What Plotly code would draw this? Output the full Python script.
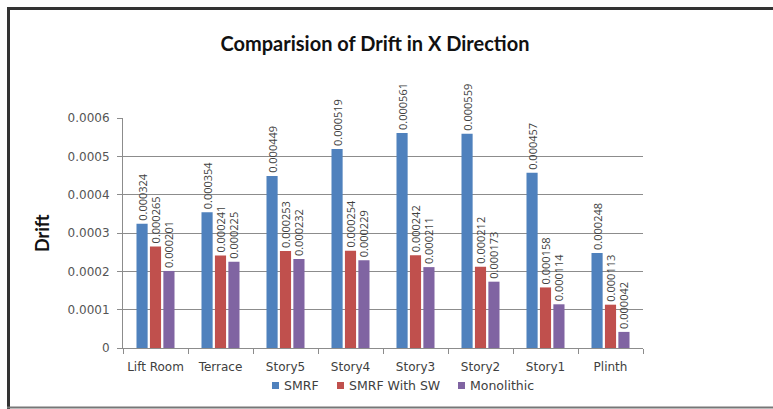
import plotly.graph_objects as go

categories = ["Lift Room", "Terrace", "Story5", "Story4", "Story3", "Story2", "Story1", "Plinth"]
smrf = [0.000324, 0.000354, 0.000449, 0.000519, 0.000561, 0.000559, 0.000457, 0.000248]
smrf_sw = [0.000265, 0.000241, 0.000253, 0.000254, 0.000242, 0.000212, 0.000158, 0.000113]
monolithic = [0.000201, 0.000225, 0.000232, 0.000229, 0.000211, 0.000173, 0.000114, 0.000042]
y_ticks = [0, 0.0001, 0.0002, 0.0003, 0.0004, 0.0005, 0.0006]
y_tick_text = ["0", "0.0001", "0.0002", "0.0003", "0.0004", "0.0005", "0.0006"]

series_names = ["SMRF", "SMRF With SW", "Monolithic"]
series_values = [smrf, smrf_sw, monolithic]
series_colors = ["#4F81BD", "#C0504D", "#8064A2"]

W, H = 773, 409
L, R, T, B = 123, 130, 118, 61
pw, ph = W - L - R, H - T - B


def px_x(x):
    return (x - L) / pw


def px_y(y):
    return (H - B - y) / ph


fig = go.Figure()
for name, vals, color in zip(series_names, series_values, series_colors):
    fig.add_trace(go.Bar(
        name=name,
        x=categories,
        y=vals,
        marker=dict(color=color, line=dict(width=0)),
        text=[f"{v:.6f}" for v in vals],
        textposition="outside",
        textangle=-90,
        constraintext="none",
        cliponaxis=False,
        showlegend=False,
        textfont=dict(family="Open Sans", size=11, color="#404040"),
    ))

# Compact legend below the axis: small square swatch followed by the name
legend_left = [272, 337, 458]
legend_mid_y = 385.5
legend_shapes = []
legend_notes = []
for left, name, color in zip(legend_left, series_names, series_colors):
    legend_shapes.append(dict(
        type="rect", xref="paper", yref="paper",
        x0=px_x(left), x1=px_x(left + 7),
        y0=px_y(legend_mid_y - 3.5), y1=px_y(legend_mid_y + 3.5),
        fillcolor=color, line=dict(width=0),
    ))
    legend_notes.append(dict(
        text=name, xref="paper", yref="paper",
        x=px_x(left + 10), y=px_y(legend_mid_y),
        xanchor="left", yanchor="middle", showarrow=False,
        font=dict(family="DejaVu Sans", size=12.5, color="#404040"),
    ))

grid = "#8c8c8c"
fig.update_layout(
    width=W,
    height=H,
    margin=dict(l=L, r=R, t=T, b=B),
    paper_bgcolor="white",
    plot_bgcolor="white",
    barmode="group",
    bargap=0.38,
    bargroupgap=0.17,
    font=dict(family="Open Sans", color="#404040"),
    title=dict(
        text="<b>Comparision of Drift in X Direction</b>",
        x=375 / W,
        xanchor="center",
        y=1 - 44 / H,
        yanchor="middle",
        font=dict(family="Lato", size=20, color="#111111"),
    ),
    xaxis=dict(
        showline=True,
        linecolor=grid,
        linewidth=1,
        ticks="outside",
        tickson="boundaries",
        ticklen=5,
        tickcolor=grid,
        tickangle=0,
        ticklabelstandoff=8,
        tickfont=dict(family="DejaVu Sans", size=12, color="#404040"),
        showgrid=False,
    ),
    yaxis=dict(
        range=[0, 0.0006],
        tickvals=y_ticks,
        ticktext=y_tick_text,
        showline=True,
        linecolor=grid,
        linewidth=1,
        ticks="outside",
        ticklen=5,
        tickcolor=grid,
        ticklabelstandoff=5,
        showgrid=True,
        gridcolor=grid,
        gridwidth=1,
        zeroline=False,
        tickfont=dict(family="DejaVu Sans", size=12, color="#555555"),
    ),
    annotations=[
        dict(
            text="<b>Drift</b>",
            xref="paper", yref="paper",
            x=px_x(42), y=0.5,
            xanchor="center", yanchor="middle",
            textangle=-90,
            showarrow=False,
            font=dict(family="Lato", size=18, color="#111111"),
        )
    ] + legend_notes,
    shapes=[
        dict(type="line", xref="paper", yref="paper",
             x0=px_x(7), x1=px_x(W), y0=px_y(8.5), y1=px_y(8.5),
             line=dict(color="#333333", width=3)),
        dict(type="line", xref="paper", yref="paper",
             x0=px_x(8.5), x1=px_x(8.5), y0=px_y(7), y1=px_y(H),
             line=dict(color="#333333", width=3)),
        dict(type="line", xref="paper", yref="paper",
             x0=px_x(7), x1=px_x(W), y0=px_y(407.5), y1=px_y(407.5),
             line=dict(color="#777777", width=2)),
    ] + legend_shapes,
)

fig.write_html("out.html")
